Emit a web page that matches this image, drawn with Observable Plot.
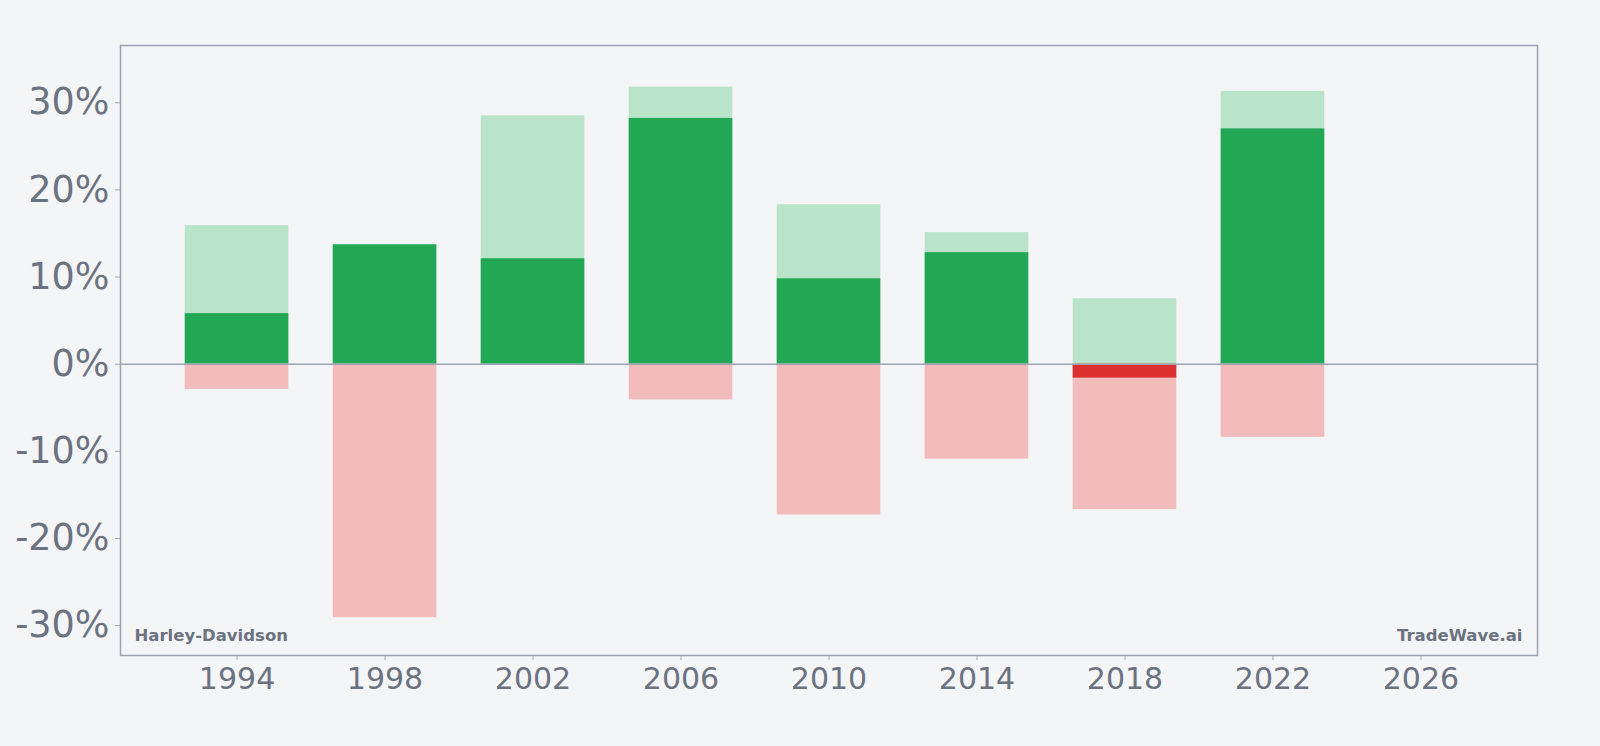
<!DOCTYPE html>
<html>
<head>
<meta charset="utf-8">
<script src="https://cdn.jsdelivr.net/npm/d3@7"></script>
<script src="https://cdn.jsdelivr.net/npm/@observablehq/plot@0.6"></script>
<style>
  html, body { margin: 0; padding: 0; background: #f4f5f7; }
  #chart { width: 1600px; height: 746px; }
</style>
</head>
<body>
<div id="chart"></div>
<script>
// Harley-Davidson: yearly return with best and worst intra-period moves (%)
const years      = [1994, 1998, 2002, 2006, 2010, 2014, 2018, 2022];
const bestGain   = [15.9, 13.7, 28.5, 31.8, 18.3, 15.1, 7.5, 31.3];
const yearReturn = [5.8, 13.7, 12.1, 28.2, 9.8, 12.8, -1.6, 27.0];
const worstDrop  = [-2.9, -29.1, 0, -4.1, -17.3, -10.9, -16.7, -8.4];
const xTicks = [1994, 1998, 2002, 2006, 2010, 2014, 2018, 2022, 2026];
const yTicks = [-30, -20, -10, 0, 10, 20, 30];
const company = "Harley-Davidson";
const source = "TradeWave.ai";

const rows = years.map((year, i) => ({
  year, high: bestGain[i], ret: yearReturn[i], low: worstDrop[i]
}));

// each bar spans 70% of the 4-year spacing
const half = 1.4;
const x1 = d => d.year - half;
const x2 = d => d.year + half;

const ink = "#6b7280";
const rim = "#9ca3af";

const chart = Plot.plot({
  width: 1600,
  height: 746,
  marginTop: 45,
  marginBottom: 91,
  marginLeft: 120,
  marginRight: 63,
  style: { background: "#f4f5f7", fontFamily: "DejaVu Sans", color: ink },
  x: { domain: [1990.85, 2029.15] },
  y: { domain: [-33.43, 36.57] },
  marks: [
    Plot.rect(rows, { x1, x2, y1: 0, y2: "high", fill: "#b9e4ca" }),
    Plot.rect(rows.filter(d => d.ret > 0), { x1, x2, y1: 0, y2: "ret", fill: "#22a754" }),
    Plot.rect(rows.filter(d => d.low < 0), { x1, x2, y1: 0, y2: "low", fill: "#f3bcbc" }),
    Plot.rect(rows.filter(d => d.ret < 0), { x1, x2, y1: 0, y2: "ret", fill: "#dc2f2f" }),
    Plot.ruleY([0], { stroke: rim, strokeWidth: 1.5 }),
    Plot.frame({ stroke: rim, strokeWidth: 1.5 }),
    Plot.axisY({
      ticks: yTicks, tickFormat: d => `${d}%`, label: null,
      tickSize: 5, tickPadding: 6, fontSize: 36.5, stroke: rim, color: ink
    }),
    Plot.axisX({
      ticks: xTicks, tickFormat: d => `${d}`, label: null,
      tickSize: 5, tickPadding: 7, fontSize: 30, stroke: rim, color: ink
    }),
    Plot.text([company], {
      frameAnchor: "bottom-left", textAnchor: "start", lineAnchor: "bottom",
      dx: 14, dy: -15, fontSize: 16.5, fontWeight: "bold", fill: ink
    }),
    Plot.text([source], {
      frameAnchor: "bottom-right", textAnchor: "end", lineAnchor: "bottom",
      dx: -15, dy: -15, fontSize: 16.5, fontWeight: "bold", fill: ink
    })
  ]
});

document.getElementById("chart").appendChild(chart);
</script>
</body>
</html>
